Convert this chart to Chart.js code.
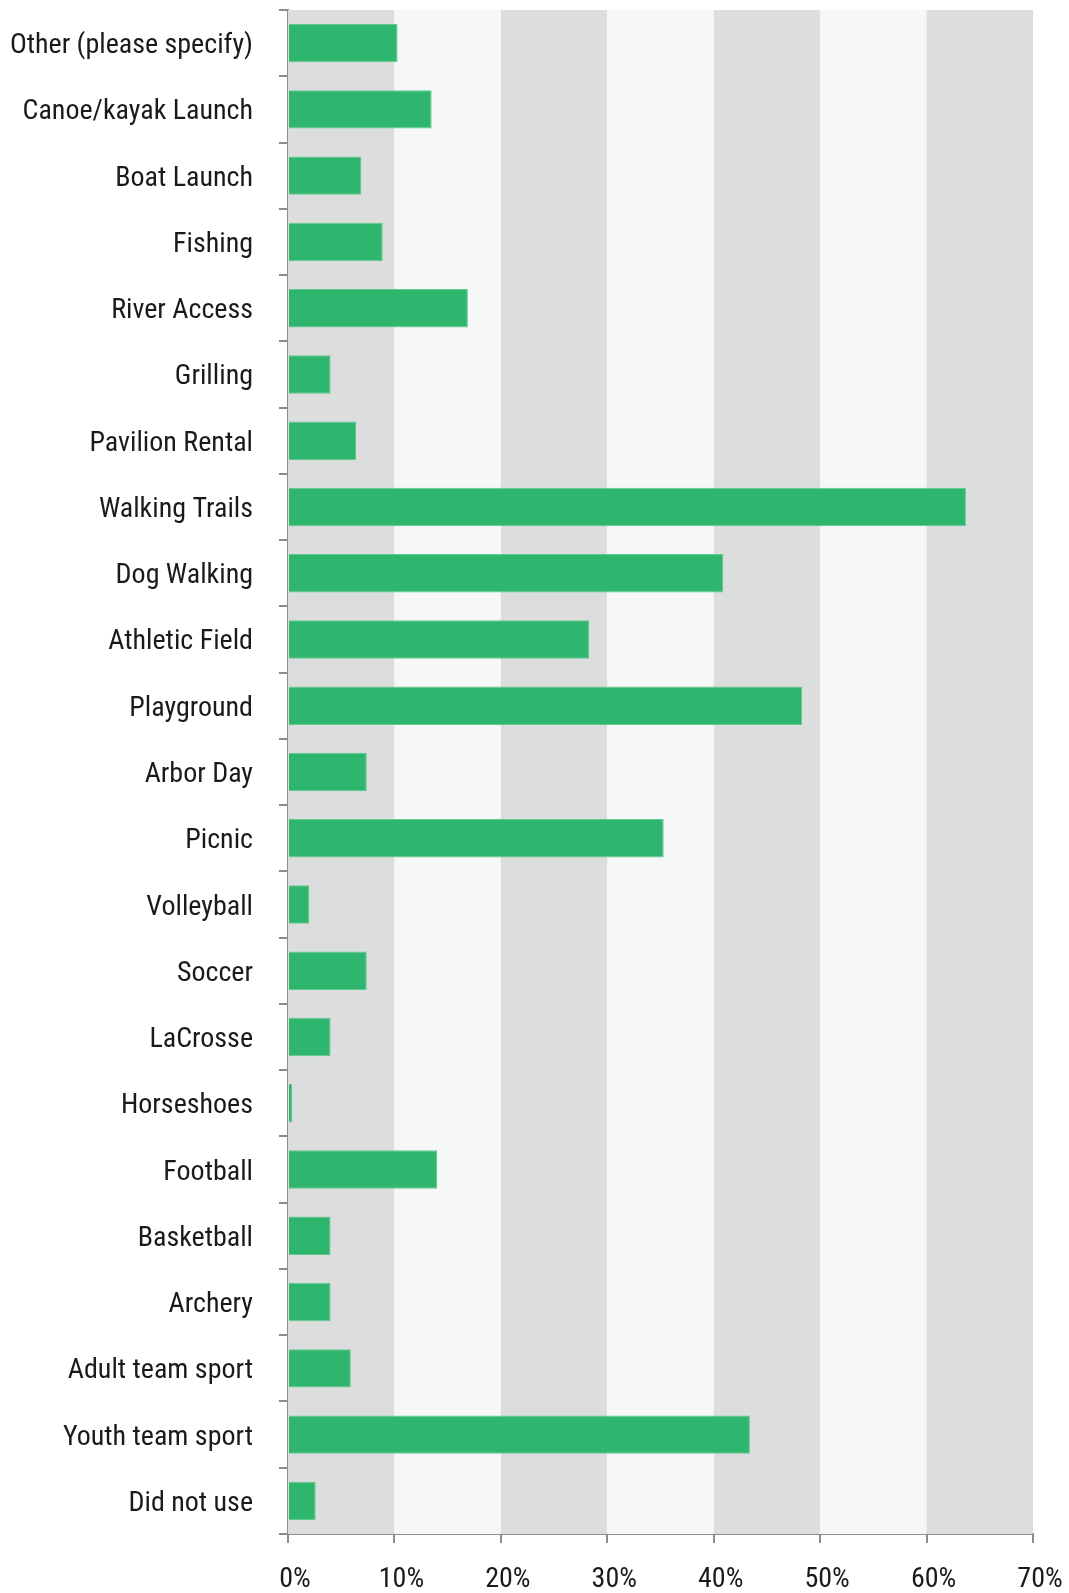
<!DOCTYPE html>
<html>
<head>
<meta charset="utf-8">
<script src="https://cdn.jsdelivr.net/npm/chart.js@4.4.0/dist/chart.umd.min.js"></script>
<style>
    html, body { margin: 0; padding: 0; background: #ffffff; }
    #graficoUso { display: block; }
</style>
</head>
<body>
<canvas id="graficoUso" width="1069" height="1593"></canvas>
<script>
// categorias do levantamento, de cima para baixo
const categorias = [
    'Other (please specify)', 'Canoe/kayak Launch', 'Boat Launch', 'Fishing',
    'River Access', 'Grilling', 'Pavilion Rental', 'Walking Trails',
    'Dog Walking', 'Athletic Field', 'Playground', 'Arbor Day', 'Picnic',
    'Volleyball', 'Soccer', 'LaCrosse', 'Horseshoes', 'Football',
    'Basketball', 'Archery', 'Adult team sport', 'Youth team sport', 'Did not use'
];

// porcentagem de respostas por categoria
const porcentagens = [
    10.3, 13.5, 6.9, 8.9,
    16.9, 4.0, 6.4, 63.7,
    40.9, 28.3, 48.3, 7.4, 35.3,
    2.0, 7.4, 4.0, 0.4, 14.0,
    4.0, 4.0, 5.9, 43.4, 2.6
];

const ticksEixoX = [0, 10, 20, 30, 40, 50, 60, 70];

const corCinza = '#8c8c8c';
const fonteTexto = { family: '"Liberation Sans Narrow", "Roboto Condensed", "DejaVu Sans Condensed", sans-serif', size: 28 };

// faixas alternadas de fundo a cada 10%
const faixasFundo = {
    id: 'faixasFundo',
    beforeDatasetsDraw(chart) {
        const ctx = chart.ctx;
        const area = chart.chartArea;
        const x = chart.scales.x;
        ctx.save();
        for (let i = 0; i < ticksEixoX.length - 1; i++) {
            const x0 = x.getPixelForValue(ticksEixoX[i]);
            const x1 = x.getPixelForValue(ticksEixoX[i + 1]);
            ctx.fillStyle = (i % 2 == 0) ? '#dcdddd' : '#f6f7f7';
            ctx.fillRect(x0, area.top, x1 - x0, area.bottom - area.top);
        }
        ctx.restore();
    }
};

const config = {
    type: 'bar',
    data: {
        labels: categorias,
        datasets: [{
            data: porcentagens,
            backgroundColor: '#2eb66f',
            borderColor: '#62c98f',
            borderWidth: 1,
            barPercentage: 0.58,
            categoryPercentage: 1
        }]
    },
    options: {
        indexAxis: 'y',
        responsive: false,
        animation: false,
        layout: { padding: { top: 10, right: 36, left: 0, bottom: 0 } },
        plugins: {
            legend: { display: false },
            tooltip: { enabled: false }
        },
        scales: {
            x: {
                min: 0,
                max: 70,
                afterBuildTicks: (scale) => {
                    scale.ticks = ticksEixoX.map(v => ({ value: v }));
                },
                afterFit: (scale) => {
                    scale.height = 59;
                    // a margem da direita fica so com o padding do layout
                    scale.paddingLeft = 0;
                    scale.paddingRight = 0;
                },
                grid: {
                    drawOnChartArea: false,
                    drawTicks: true,
                    tickLength: 9,
                    color: corCinza,
                    lineWidth: 2
                },
                border: { display: true, color: corCinza, width: 2 },
                ticks: {
                    callback: (v) => v + '%',
                    color: '#1a1a1a',
                    font: fonteTexto,
                    padding: 20,
                    labelOffset: 7,
                    maxRotation: 0
                }
            },
            y: {
                afterFit: (scale) => {
                    scale.width = 288;
                    // sem folga extra em cima/embaixo, as faixas ja contem os rotulos
                    scale.paddingTop = 0;
                    scale.paddingBottom = 0;
                },
                grid: {
                    offset: true,
                    drawOnChartArea: false,
                    drawTicks: true,
                    tickLength: 9,
                    color: corCinza,
                    lineWidth: 2
                },
                border: { display: true, color: corCinza, width: 2 },
                ticks: {
                    color: '#1a1a1a',
                    font: fonteTexto,
                    padding: 26,
                    labelOffset: 3,
                    autoSkip: false
                }
            }
        }
    },
    plugins: [faixasFundo]
};

let graficoUso = new Chart(document.getElementById('graficoUso'), config);
</script>
</body>
</html>
